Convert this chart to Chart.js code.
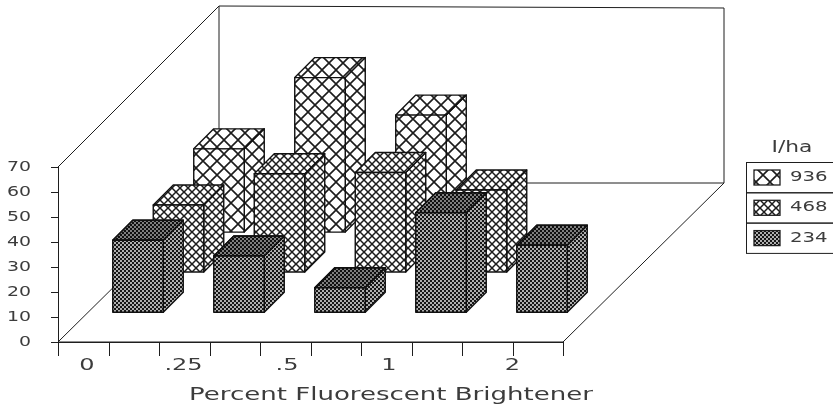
<!DOCTYPE html>
<html><head><meta charset="utf-8">
<style>html,body{margin:0;padding:0;background:#fff}canvas{display:block}</style>
<script src="https://cdn.jsdelivr.net/npm/chart.js@4/dist/chart.umd.min.js"></script>
</head><body>
<canvas id="c" width="833" height="410"></canvas>
<script>
const categories = ['0', '.25', '.5', '1', '2'];
const series234 = [29, 22.7, 10, 40, 27];
const series468 = [27, 39.5, 40, 33, null];
const series936 = [33.5, 62, 47, null, null];
const seriesNames = ['936', '468', '234'];
const yMin = 0, yMax = 70, yStep = 10;
const legendTitle = 'I/ha';
const xTitle = 'Percent Fluorescent Brightener';

const INK = '#1e1e1e', TEXT = '#3c3c3c';
let WIDE = 1.4;
const ROW_X = {'234': 29.5, '468': 70, '936': 110.5};
const ROW_Y = {'234': 29.3, '468': 69.5, '936': 109.4};
const BAR_DEPTH = 20, WALL_X = 161, WALL_Y = 159, WALL_TOP = 7;
const LABEL_SHIFT = [-21.5, -26, -23.5, -22.5, 0];

const canvas = document.getElementById('c');
const ctx = canvas.getContext('2d');
const protoFill = CanvasRenderingContext2D.prototype.fillText;
ctx.fillText = function (t, x, y) {
  this.save(); this.translate(x, y); this.scale(WIDE, 1);
  protoFill.call(this, t, 0, 0); this.restore();
};

function tile(size, paint) {
  const c = document.createElement('canvas'); c.width = c.height = size;
  const g = c.getContext('2d'); g.fillStyle = '#fff'; g.fillRect(0, 0, size, size);
  paint(g, size); return ctx.createPattern(c, 'repeat');
}
function cross(w) {
  return (g, s) => {
    g.strokeStyle = '#1c1c1c'; g.lineWidth = w; g.beginPath();
    g.moveTo(0, 0); g.lineTo(s, s); g.moveTo(s, 0); g.lineTo(0, s); g.stroke();
  };
}
function dots(g, s) {
  g.fillStyle = '#161616'; g.fillRect(0, 0, s, s); g.fillStyle = '#f2f2f2';
  [[1, 1], [3, 3]].forEach(p => { g.beginPath(); g.arc(p[0], p[1], 0.95, 0, 7); g.fill(); });
}
const patterns = {'936': tile(14, cross(1.6)), '468': tile(8, cross(1.5)), '234': tile(4, dots)};

function poly(c, pts, fill) {
  c.beginPath(); pts.forEach((p, i) => i ? c.lineTo(p[0], p[1]) : c.moveTo(p[0], p[1])); c.closePath();
  if (fill) { c.fillStyle = fill; c.fill(); }
  c.stroke();
}
function label(c, text, x, y, size, wide, align) {
  WIDE = wide;
  c.font = size + 'px "DejaVu Sans"'; c.fillStyle = TEXT; c.textAlign = align || 'center';
  c.textBaseline = 'middle'; c.fillText(text, x, y);
  WIDE = 1.4;
}

const bars3d = {
  id: 'bars3d',
  beforeDatasetDraw() { return false; },
  beforeDatasetsDraw(chart) {
    const c = chart.ctx, a = chart.chartArea, dx = WALL_X, dy = WALL_Y;
    c.save(); c.strokeStyle = INK; c.lineWidth = 1;
    poly(c, [[a.left, a.bottom], [a.left + dx, a.bottom - dy], [a.right + dx, a.bottom - dy], [a.right, a.bottom]]);
    c.beginPath();
    c.moveTo(a.left, a.top); c.lineTo(a.left + dx, WALL_TOP - 1); c.lineTo(a.right + dx, WALL_TOP + 1);
    c.lineTo(a.right + dx, a.bottom - dy); c.moveTo(a.left + dx, WALL_TOP - 1); c.lineTo(a.left + dx, a.bottom - dy);
    c.stroke();
    c.restore();
  },
  afterDatasetsDraw(chart) {
    const c = chart.ctx;
    c.save(); c.strokeStyle = '#111'; c.lineWidth = 1.4; c.lineJoin = 'round';
    chart.data.datasets.forEach((ds, di) => {
      const ox = ROW_X[ds.label], oy = ROW_Y[ds.label], pat = patterns[ds.label], k = BAR_DEPTH;
      chart.getDatasetMeta(di).data.forEach((el, i) => {
        if (ds.data[i] == null) return;
        const l = el.x - el.width / 2 + ox, r = el.x + el.width / 2 + ox;
        const t = el.y - oy, b = el.base - oy;
        poly(c, [[r, t], [r + k, t - k], [r + k, b - k], [r, b]], pat);
        poly(c, [[l, t], [l + k, t - k], [r + k, t - k], [r, t]], pat);
        if (ds.label === '234') poly(c, [[l, t], [l + k, t - k], [r + k, t - k], [r, t]], 'rgba(0,0,0,.28)');
        poly(c, [[l, t], [r, t], [r, b], [l, b]], pat);
      });
    });
    c.restore();
  },
  afterDraw(chart) {
    const c = chart.ctx, x = chart.scales.x, a = chart.chartArea;
    c.save(); c.strokeStyle = INK; c.lineWidth = 1;
    categories.forEach((cat, i) => {
      const p = Math.round(x.getPixelForValue(i)) + 0.5;
      c.beginPath(); c.moveTo(p, a.bottom); c.lineTo(p, a.bottom + 14); c.stroke();
      label(c, cat, x.getPixelForValue(i) + LABEL_SHIFT[i], 366, 16, 1.5);
    });
    label(c, xTitle, 391, 395, 18, 1.445);
    // legend
    const L = 746, R = 833, rowTop = 162, rowH = 30.3;
    label(c, legendTitle, 792, 148, 15, 1.45);
    seriesNames.forEach((n, i) => {
      const y = rowTop + i * rowH;
      c.strokeStyle = INK; c.lineWidth = 1;
      c.strokeRect(L + 0.5, y + 0.5, R - L, rowH);
      c.lineWidth = 1.3;
      c.fillStyle = patterns[n]; c.fillRect(754, y + 8, 26, 15); c.strokeRect(754, y + 8, 26, 15);
      label(c, n, 790, y + rowH / 2, 14.5, 1.36, 'left');
    });
    c.restore();
  }
};

new Chart(ctx, {
  type: 'bar',
  data: {
    labels: categories,
    datasets: [
      {label: seriesNames[0], data: series936},
      {label: seriesNames[1], data: series468},
      {label: seriesNames[2], data: series234}
    ]
  },
  options: {
    responsive: false, animation: false,
    layout: {padding: {top: 167, right: 270, left: 0, bottom: 0}},
    datasets: {bar: {grouped: false, barPercentage: 0.5, categoryPercentage: 1}},
    plugins: {legend: {display: false}, tooltip: {enabled: false}},
    scales: {
      x: {
        offset: true,
        afterFit(s) { s.height = 68; },
        grid: {offset: true, drawOnChartArea: false, tickLength: 14, color: INK},
        border: {color: INK},
        ticks: {display: false}
      },
      y: {
        min: yMin, max: yMax,
        afterFit(s) { s.width = 58; },
        grid: {drawOnChartArea: false, tickLength: 7, color: INK},
        border: {color: INK},
        ticks: {stepSize: yStep, padding: 20, color: TEXT, font: {family: '"DejaVu Sans"', size: 13.5}}
      }
    }
  },
  plugins: [bars3d]
});
</script>
</body></html>
